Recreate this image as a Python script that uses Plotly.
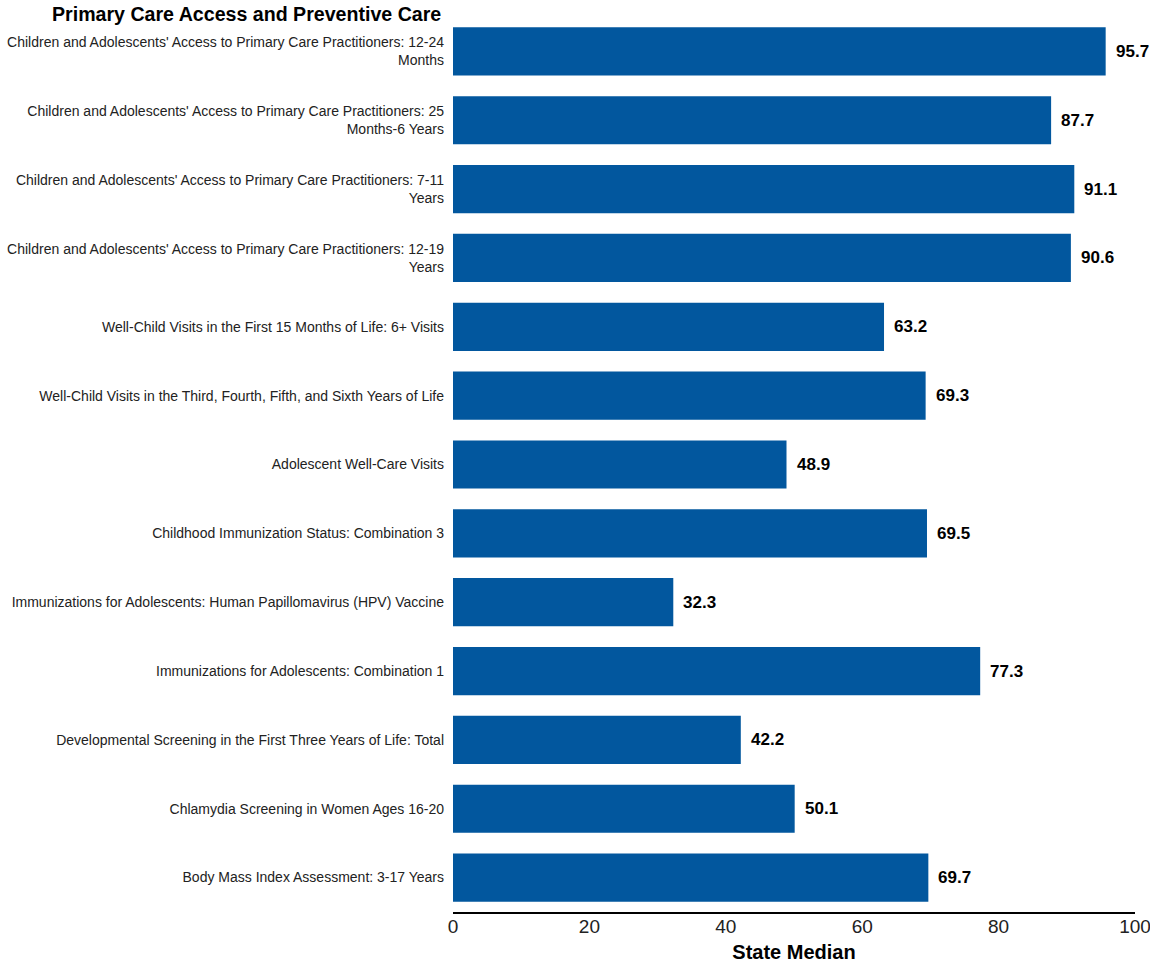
import plotly.graph_objects as go

categories = [
    "Children and Adolescents' Access to Primary Care Practitioners: 12-24<br>Months",
    "Children and Adolescents' Access to Primary Care Practitioners: 25<br>Months-6 Years",
    "Children and Adolescents' Access to Primary Care Practitioners: 7-11<br>Years",
    "Children and Adolescents' Access to Primary Care Practitioners: 12-19<br>Years",
    "Well-Child Visits in the First 15 Months of Life: 6+ Visits",
    "Well-Child Visits in the Third, Fourth, Fifth, and Sixth Years of Life",
    "Adolescent Well-Care Visits",
    "Childhood Immunization Status: Combination 3",
    "Immunizations for Adolescents: Human Papillomavirus (HPV) Vaccine",
    "Immunizations for Adolescents: Combination 1",
    "Developmental Screening in the First Three Years of Life: Total",
    "Chlamydia Screening in Women Ages 16-20",
    "Body Mass Index Assessment: 3-17 Years",
]
values = [95.7, 87.7, 91.1, 90.6, 63.2, 69.3, 48.9, 69.5, 32.3, 77.3, 42.2, 50.1, 69.7]
x_ticks = [0, 20, 40, 60, 80, 100]

sans = "Liberation Sans, Arial, sans-serif"

fig = go.Figure(go.Bar(
    y=categories,
    x=values,
    orientation="h",
    marker=dict(color="#02579E", line=dict(width=0)),
    hoverinfo="x+y",
))

annotations = [
    dict(
        text="<b>Primary Care Access and Preventive Care</b>",
        xref="paper", yref="paper",
        x=0, y=1.0, xanchor="right", yanchor="middle",
        xshift=-10, yshift=3,
        showarrow=False,
        font=dict(family=sans, size=19.6, color="#000000"),
    )
]
for cat, v in zip(categories, values):
    annotations.append(dict(
        text=f"<b>{v:.1f}</b>",
        x=v, y=cat, xref="x", yref="y",
        xanchor="left", yanchor="middle", xshift=8,
        showarrow=False,
        font=dict(family=sans, size=17, color="#000000"),
    ))

fig.update_layout(
    width=1150,
    height=963,
    margin=dict(l=453, r=15, t=17, b=51),
    plot_bgcolor="white",
    paper_bgcolor="white",
    bargap=0.3,
    showlegend=False,
    font=dict(family=sans, color="#222222"),
    annotations=annotations,
)

fig.update_yaxes(
    autorange="reversed",
    showgrid=False,
    showline=False,
    ticks="",
    tickfont=dict(family=sans, size=14, color="#222222"),
    ticklabelstandoff=8,
    automargin=False,
)

fig.update_xaxes(
    range=[0, 100],
    tickvals=x_ticks,
    ticktext=[str(t) for t in x_ticks],
    showgrid=False,
    zeroline=False,
    showline=True,
    linecolor="#000000",
    linewidth=2,
    ticks="",
    ticklabeloverflow="allow",
    ticklabelstandoff=-4,
    tickfont=dict(family=sans, size=19, color="#222222"),
    title=dict(text="<b>State Median</b>", font=dict(family=sans, size=20, color="#000000"), standoff=10),
    automargin=False,
)

fig.write_html(
    "out.html",
    config={"displayModeBar": False},
    post_script="document.body.style.margin='0';document.body.style.overflow='hidden';",
)
